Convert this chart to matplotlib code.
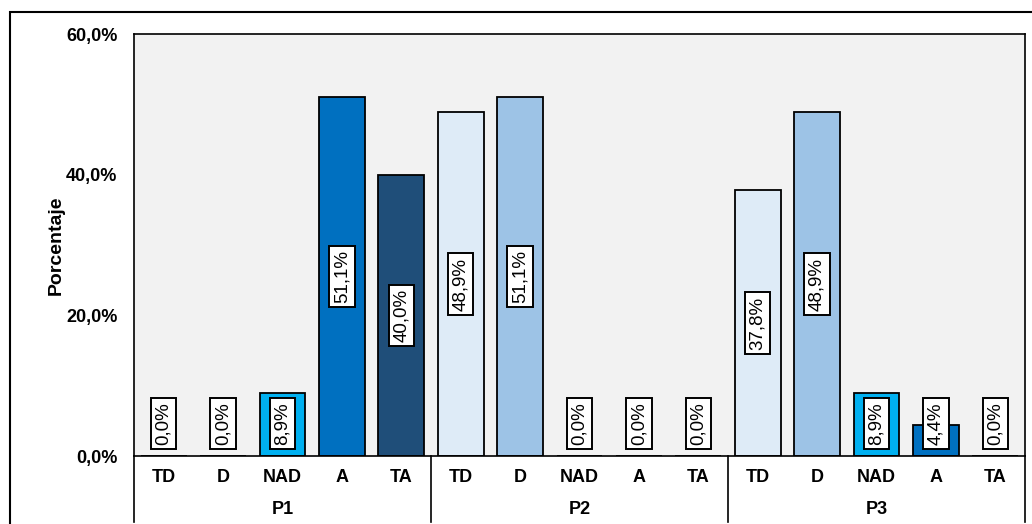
import matplotlib.pyplot as plt
import matplotlib.transforms as mtransforms
from matplotlib.patches import Rectangle
from matplotlib.lines import Line2D

# Data
groups = ["P1", "P2", "P3"]
categories = ["TD", "D", "NAD", "A", "TA"]
colors = ["#DEEBF7", "#9DC3E6", "#00B0F0", "#0070C0", "#1F4E79"]
p1 = [0.0, 0.0, 8.9, 51.1, 40.0]
p2 = [48.9, 51.1, 0.0, 0.0, 0.0]
p3 = [37.8, 48.9, 8.9, 4.4, 0.0]
yticks = [0, 20, 40, 60]

plt.rcParams['font.family'] = ['Liberation Sans', 'DejaVu Sans']

W, H = 1032, 524
fig = plt.figure(figsize=(W / 100, H / 100), dpi=100)
fig.patch.set_facecolor("white")

# outer chart border (cropped on right/bottom)
fig.add_artist(Rectangle((10 / W, -0.1), 1.2, (H - 12) / H + 0.1, transform=fig.transFigure,
                         fill=False, edgecolor="black", linewidth=1.5))

left, right, top, bottom = 134, 1025, 34, 456
ax = fig.add_axes([left / W, 1 - bottom / H, (right - left) / W, (bottom - top) / H])
ax.set_facecolor("#F2F2F2")
for s in ax.spines.values():
    s.set_linewidth(1.2)
    s.set_color("black")

n = len(categories)
all_vals = [p1, p2, p3]
for g, vals in enumerate(all_vals):
    for i, v in enumerate(vals):
        x = g * n + i + 0.5
        ax.bar(x, v, width=0.77, color=colors[i], edgecolor="black", linewidth=1.3, zorder=2)
        ax.text(x, max(v / 2, 4.6), f"{v:.1f}%".replace(".", ","), rotation=90,
                ha="center", va="center", fontsize=13.5, zorder=3,
                bbox=dict(boxstyle="square,pad=0.22", facecolor="white",
                          edgecolor="black", linewidth=1.4))

ax.set_xlim(0, 15)
ax.set_ylim(0, 60)
ax.set_xticks([])
ax.set_yticks(yticks)
ax.set_yticklabels([f"{t:.1f}%".replace(".", ",") for t in yticks], fontsize=13, fontweight="bold")
ax.tick_params(axis="y", length=0, pad=12)
ax.set_ylabel("Porcentaje", fontsize=14, fontweight="bold", labelpad=1)

# category and group labels below the axis
trans = mtransforms.blended_transform_factory(ax.transData, fig.transFigure)
for g, name in enumerate(groups):
    for i, c in enumerate(categories):
        ax.text(g * n + i + 0.5, 1 - 478 / H, c, transform=trans, ha="center", va="center",
                fontsize=13, fontweight="bold")
    ax.text(g * n + n / 2, 1 - 509 / H, name, transform=trans, ha="center", va="center",
            fontsize=13, fontweight="bold")

for xb in [0, 5, 10, 15]:
    fig.add_artist(Line2D([(left + xb * (right - left) / 15) / W] * 2, [1 - bottom / H, 1 - 522 / H],
                          transform=fig.transFigure, color="black", linewidth=1.2))

fig.savefig("out.png", dpi=100)
